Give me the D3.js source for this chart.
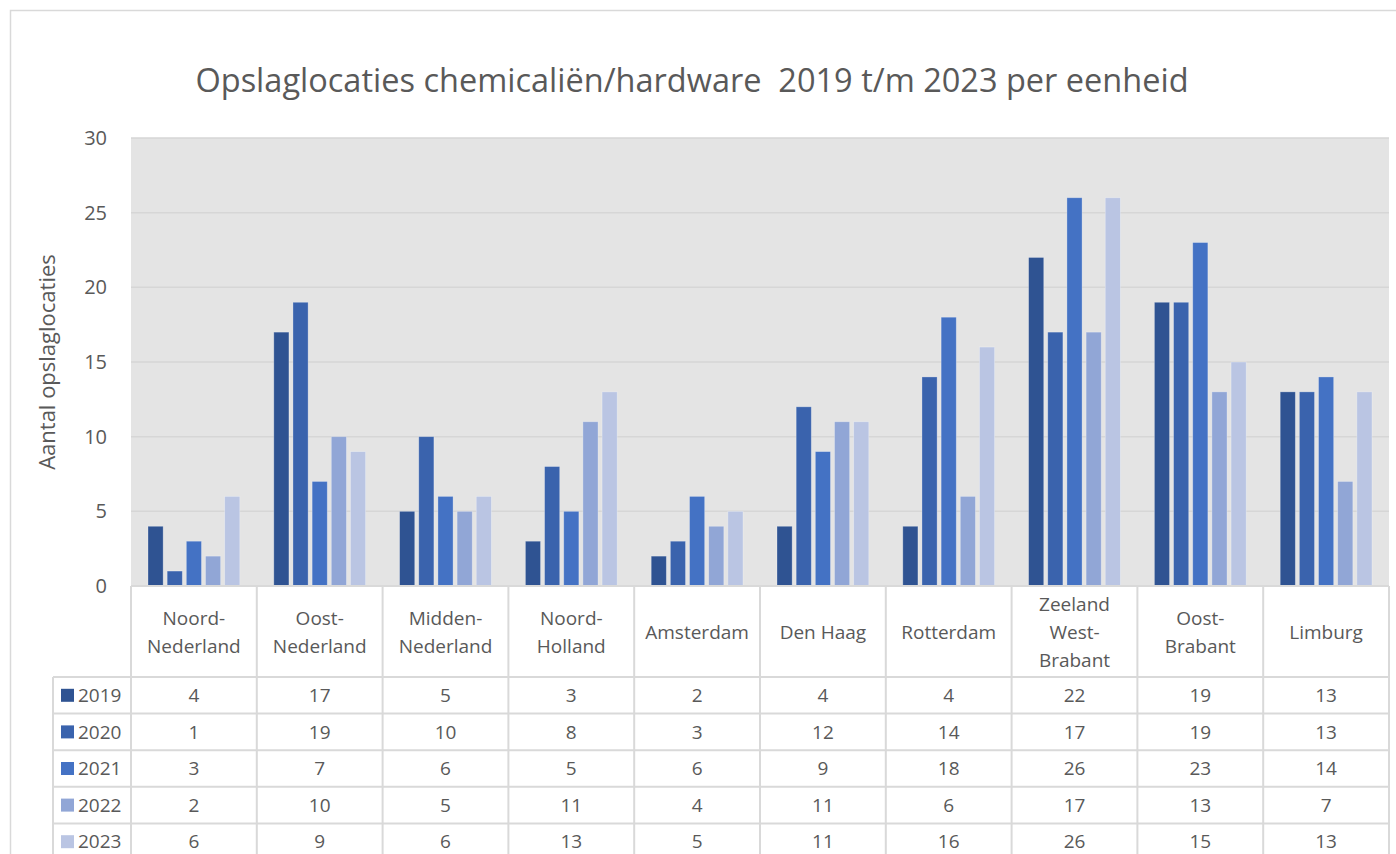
<!DOCTYPE html>
<html>
<head>
<meta charset="utf-8">
<script src="https://cdn.jsdelivr.net/npm/d3@7"></script>
<style>
  body { margin: 0; background: #fff; }
  text { font-family: "Open Sans", "Noto Sans", sans-serif; fill: #595959; }
</style>
</head>
<body>
<div id="chart"></div>
<script>
const categories = ["Noord-\nNederland", "Oost-\nNederland", "Midden-\nNederland", "Noord-\nHolland",
  "Amsterdam", "Den Haag", "Rotterdam", "Zeeland\nWest-\nBrabant", "Oost-\nBrabant", "Limburg"];
const years = ["2019", "2020", "2021", "2022", "2023"];
const values2019 = [4, 17, 5, 3, 2, 4, 4, 22, 19, 13];
const values2020 = [1, 19, 10, 8, 3, 12, 14, 17, 19, 13];
const values2021 = [3, 7, 6, 5, 6, 9, 18, 26, 23, 14];
const values2022 = [2, 10, 5, 11, 4, 11, 6, 17, 13, 7];
const values2023 = [6, 9, 6, 13, 5, 11, 16, 26, 15, 13];
const yTicks = [0, 5, 10, 15, 20, 25, 30];

const series = [values2019, values2020, values2021, values2022, values2023];
const colors = ["#2f5392", "#3a63ad", "#4472c4", "#91a6d6", "#bac5e3"];

const W = 1396, H = 854;
const svg = d3.select("#chart").append("svg")
  .attr("width", W)
  .attr("height", H);

// chart border
svg.append("rect")
  .attr("x", 10.5).attr("y", 10.5)
  .attr("width", W + 20).attr("height", H + 20)
  .attr("fill", "none").attr("stroke", "#d9d9d9").attr("stroke-width", 1.5);

const plot = { left: 131, right: 1389, top: 138, bottom: 586 };

const x0 = d3.scaleBand()
  .domain(d3.range(categories.length))
  .range([plot.left, plot.right])
  .paddingInner(0);

const x1 = d3.scaleBand()
  .domain(years)
  .range([17, x0.bandwidth() - 17])
  .paddingInner(0.21);

const y = d3.scaleLinear()
  .domain([0, 30])
  .range([plot.bottom, plot.top]);

// plot background
svg.append("rect")
  .attr("x", plot.left).attr("y", plot.top)
  .attr("width", plot.right - plot.left).attr("height", plot.bottom - plot.top)
  .attr("fill", "#e4e4e4");

// gridlines
svg.append("g")
  .selectAll("line")
  .data(yTicks.slice(1))
  .join("line")
  .attr("x1", plot.left).attr("x2", plot.right)
  .attr("y1", d => y(d)).attr("y2", d => y(d))
  .attr("stroke", "#d6d6d6").attr("stroke-width", 1.5);

// y axis
const yAxis = svg.append("g")
  .attr("transform", `translate(${plot.left - 24},0)`)
  .call(d3.axisLeft(y).tickValues(yTicks).tickSize(0).tickPadding(0));
yAxis.select(".domain").remove();
yAxis.selectAll("text")
  .style("font-size", "20px")
  .style("font-family", "'Open Sans', sans-serif")
  .attr("fill", "#595959");

// bars
const groups = svg.append("g")
  .selectAll("g")
  .data(categories.map((c, i) => i))
  .join("g")
  .attr("transform", i => `translate(${x0(i)},0)`);

groups.selectAll("rect")
  .data(i => years.map((yr, k) => ({ yr, k, v: series[k][i] })))
  .join("rect")
  .attr("x", d => x1(d.yr))
  .attr("y", d => y(d.v))
  .attr("width", x1.bandwidth())
  .attr("height", d => y(0) - y(d.v))
  .attr("fill", d => colors[d.k])
  .attr("stroke", "#ffffff")
  .attr("stroke-opacity", 0.35)
  .attr("stroke-width", 0.8);

// title
svg.append("text")
  .attr("x", 692).attr("y", 92)
  .attr("text-anchor", "middle")
  .style("font-size", "32.5px")
  .text("Opslaglocaties chemicaliën/hardware\u00a0 2019 t/m 2023 per eenheid");

// y label
svg.append("text")
  .attr("transform", "translate(55,362) rotate(-90)")
  .attr("text-anchor", "middle")
  .style("font-size", "22px")
  .text("Aantal opslaglocaties");

// data table
const headerTop = plot.bottom, headerBottom = 677;
const rowH = 36.6;
const legendLeft = 53;
const tableBottom = headerBottom + rowH * years.length;
const lineColor = "#d9d9d9";
const table = svg.append("g").attr("stroke", lineColor).attr("stroke-width", 2);

// horizontal lines
table.append("line")
  .attr("x1", plot.left).attr("x2", plot.right)
  .attr("y1", headerTop).attr("y2", headerTop);
years.forEach((yr, k) => {
  table.append("line")
    .attr("x1", legendLeft).attr("x2", plot.right)
    .attr("y1", headerBottom + k * rowH).attr("y2", headerBottom + k * rowH);
});
// vertical lines
table.append("line")
  .attr("x1", legendLeft).attr("x2", legendLeft)
  .attr("y1", headerBottom).attr("y2", tableBottom + 20);
d3.range(categories.length + 1).forEach(i => {
  const xv = i < categories.length ? x0(i) : plot.right;
  table.append("line")
    .attr("x1", xv).attr("x2", xv)
    .attr("y1", headerTop).attr("y2", tableBottom + 20);
});

// header labels
const lineH = 28;
categories.forEach((c, i) => {
  const lines = c.split("\n");
  const cy = (headerTop + headerBottom) / 2 + 1;
  const t = svg.append("text")
    .attr("text-anchor", "middle")
    .style("font-size", "19px");
  lines.forEach((ln, j) => {
    t.append("tspan")
      .attr("x", x0(i) + x0.bandwidth() / 2)
      .attr("y", cy + (j - (lines.length - 1) / 2) * lineH)
      .attr("dy", "0.35em")
      .text(ln);
  });
});

// rows
years.forEach((yr, k) => {
  const cy = headerBottom + k * rowH + rowH / 2;
  svg.append("rect")
    .attr("x", 61).attr("y", cy - 6.5)
    .attr("width", 13).attr("height", 13)
    .attr("fill", colors[k]);
  svg.append("text")
    .attr("x", 78).attr("y", cy).attr("dy", "0.35em")
    .style("font-size", "19px")
    .text(yr);
  series[k].forEach((v, i) => {
    svg.append("text")
      .attr("x", x0(i) + x0.bandwidth() / 2)
      .attr("y", cy).attr("dy", "0.35em")
      .attr("text-anchor", "middle")
      .style("font-size", "19px")
      .text(v);
  });
});
</script>
</body>
</html>
